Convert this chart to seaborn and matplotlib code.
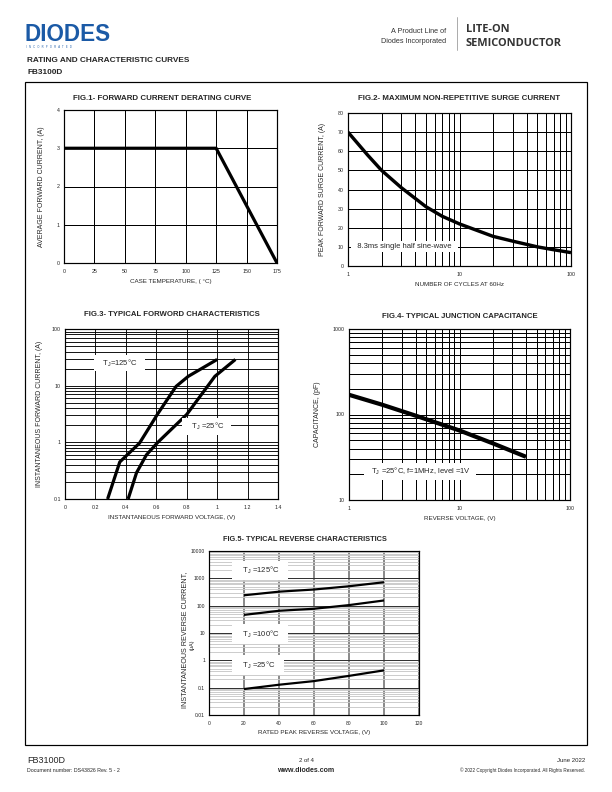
import matplotlib
matplotlib.use("Agg")
import matplotlib.pyplot as plt
import seaborn as sns
from matplotlib.ticker import FixedLocator, FixedFormatter, LogLocator, NullFormatter

# ---- data ----
# FIG.1 derating
f1_temp = [0, 125, 175]
f1_curr = [3, 3, 0]
# FIG.2 surge current
f2_cycles = [1, 1.5, 2, 3, 5, 7, 10, 20, 30, 50, 70, 100]
f2_amps = [70, 58, 50, 41, 31, 26, 22, 15.5, 13, 10, 8.5, 7]
# FIG.3 forward characteristics
f3_v125 = [0.28, 0.36, 0.49, 0.61, 0.73, 0.81, 1.0]
f3_i125 = [0.1, 0.45, 0.97, 3.2, 9.7, 14.6, 29]
f3_v25 = [0.415, 0.47, 0.535, 0.61, 0.80, 0.985, 1.12]
f3_i25 = [0.1, 0.29, 0.6, 1.0, 3.1, 14.6, 29]
# FIG.4 junction capacitance
f4_volt = [1, 2, 4, 10, 20, 40]
f4_cap = [170, 130, 97, 65, 46, 32]
# FIG.5 reverse characteristics
f5_volt = [20, 40, 60, 80, 100]
f5_i125 = [240, 325, 390, 513, 720]
f5_i100 = [46, 65, 77, 105, 155]
f5_i25 = [0.089, 0.128, 0.174, 0.27, 0.43]

sns.set_style("white")
plt.rcParams["font.family"] = ["Liberation Sans", "DejaVu Sans"]
plt.rcParams["mathtext.fontset"] = "custom"
plt.rcParams["mathtext.rm"] = "Liberation Sans"

W, H = 612, 792
fig = plt.figure(figsize=(W / 72, H / 72), dpi=72)


def px_axes(x0, y0, x1, y1):
    ax = fig.add_axes([x0 / W, 1 - y1 / H, (x1 - x0) / W, (y1 - y0) / H])
    for s in ax.spines.values():
        s.set_color("black")
        s.set_linewidth(1.2)
    ax.tick_params(length=0, labelsize=5.3, colors="#222222")
    ax.tick_params(axis="x", pad=6)
    ax.tick_params(axis="y", pad=4)
    return ax


def ftext(x, y, s, **kw):
    fig.text(x / W, 1 - y / H, s, **kw)


def label_box(ax, x, y, s, size=7.6, pad=2.5):
    ax.text(x, y, s, ha="center", va="center", fontsize=size, zorder=5,
            bbox=dict(facecolor="white", edgecolor="none", pad=pad))


def curve(ax, xs, ys, lw=3):
    sns.lineplot(x=xs, y=ys, ax=ax, color="black", linewidth=lw, sort=False,
                 estimator=None, zorder=4, solid_capstyle="butt")


def log_axis(a, ticks, labs):
    a.set_major_locator(FixedLocator(ticks))
    a.set_major_formatter(FixedFormatter(labs))
    a.set_minor_locator(LogLocator(base=10, subs=range(2, 10)))
    a.set_minor_formatter(NullFormatter())


# ---- header ----
ftext(24, 41, "DIODES", fontsize=22.5, fontweight="bold", color="#1b5aa6")
ftext(26, 48, "I   N   C   O   R   P   O   R   A   T   E   D", fontsize=2.6,
      color="#1b5aa6")
ftext(446, 33, "A Product Line of", fontsize=7.2, ha="right", color="#333333")
ftext(446, 43, "Diodes Incorporated", fontsize=7.2, ha="right", color="#333333")
fig.add_artist(plt.Line2D([457 / W, 457 / W], [1 - 17 / H, 1 - 50 / H],
                          color="#999999", lw=0.8))
ftext(466, 32, "LITE-ON", fontsize=11, fontweight="bold", color="#333333",
      family=["Open Sans", "DejaVu Sans"])
ftext(466, 46, "SEMICONDUCTOR", fontsize=11, fontweight="bold", color="#333333",
      family=["Open Sans", "DejaVu Sans"])
ftext(27, 62, "RATING AND CHARACTERISTIC CURVES", fontsize=8.3, fontweight="bold")
ftext(27, 74, "FB3100D", fontsize=8.3, fontweight="bold")

# outer frame
fig.add_artist(plt.Rectangle((25 / W, 1 - 745 / H), 562 / W, 663 / H,
                             fill=False, edgecolor="black", lw=1.2))

XL = dict(fontsize=6.2, labelpad=5)

# ---- FIG.1 ----
ax1 = px_axes(64, 110, 277, 263)
curve(ax1, f1_temp, f1_curr, lw=3.2)
ax1.set_xlim(0, 175)
ax1.set_ylim(0, 4)
ax1.set_xticks(range(0, 176, 25))
ax1.set_yticks(range(0, 5))
ax1.grid(True, color="black", lw=1)
ax1.set_xlabel("CASE TEMPERATURE, ( °C)", **XL)
ax1.set_ylabel("AVERAGE FORWARD CURRENT, (A)", fontsize=7.0, labelpad=12)
ftext(162, 100, "FIG.1- FORWARD CURRENT DERATING CURVE", fontsize=7.9,
      fontweight="bold", ha="center")

# ---- FIG.2 ----
ax2 = px_axes(348, 113, 571, 266)
ax2.set_xscale("log")
curve(ax2, f2_cycles, f2_amps, lw=3.4)
ax2.set_xlim(1, 100)
ax2.set_ylim(0, 80)
ax2.set_yticks(range(0, 81, 10))
log_axis(ax2.xaxis, [1, 10, 100], ["1", "10", "100"])
ax2.tick_params(which="minor", length=0)
ax2.grid(True, which="both", color="black", lw=1)
label_box(ax2, 3.2, 10, "  8.3ms single half sine-wave  ", size=7.6, pad=2)
ax2.set_xlabel("NUMBER OF CYCLES AT 60Hz", **XL)
ax2.set_ylabel("PEAK FORWARD SURGE CURRENT, (A)", fontsize=7.0, labelpad=12)
ftext(459, 100, "FIG.2- MAXIMUM NON-REPETITIVE SURGE CURRENT", fontsize=7.9,
      fontweight="bold", ha="center")

# ---- FIG.3 ----
ax3 = px_axes(65, 329, 278, 499)
ax3.set_yscale("log")
curve(ax3, f3_v125, f3_i125, lw=3.2)
curve(ax3, f3_v25, f3_i25, lw=3.2)
ax3.set_xlim(0, 1.4)
ax3.set_ylim(0.1, 100)
ax3.set_xticks([0, 0.2, 0.4, 0.6, 0.8, 1, 1.2, 1.4])
ax3.set_xticklabels(["0", "0.2", "0.4", "0.6", "0.8", "1", "1.2", "1.4"])
log_axis(ax3.yaxis, [0.1, 1, 10, 100], ["0.1", "1", "10", "100"])
ax3.tick_params(which="minor", length=0)
ax3.grid(True, which="both", color="black", lw=0.9)
label_box(ax3, 0.355, 25, r"   T$_\mathregular{J}$=125°C   ", pad=2.5)
label_box(ax3, 0.93, 1.9, r"   T$_\mathregular{J}$ =25°C   ", pad=2.5)
ax3.set_xlabel("INSTANTANEOUS FORWARD VOLTAGE, (V)", **XL)
ax3.set_ylabel("INSTANTANEOUS FORWARD CURRENT, (A)", fontsize=7.0, labelpad=9)
ftext(172, 316, "FIG.3- TYPICAL FORWORD CHARACTERISTICS", fontsize=7.8,
      fontweight="bold", ha="center")

# ---- FIG.4 ----
ax4 = px_axes(349, 329, 570, 500)
ax4.set_xscale("log")
ax4.set_yscale("log")
curve(ax4, f4_volt, f4_cap, lw=4.2)
ax4.set_xlim(1, 100)
ax4.set_ylim(10, 1000)
log_axis(ax4.xaxis, [1, 10, 100], ["1", "10", "100"])
log_axis(ax4.yaxis, [10, 100, 1000], ["10", "100", "1000"])
ax4.tick_params(which="minor", length=0)
ax4.grid(True, which="both", color="black", lw=1)
label_box(ax4, 4.4, 21.5, r"  T$_\mathregular{J}$ =25°C, f=1MHz, level =1V  ",
          size=7.6, pad=3)
ax4.set_xlabel("REVERSE VOLTAGE, (V)", **XL)
ax4.set_ylabel("CAPACITANCE, (pF)", fontsize=7.0, labelpad=12)
ftext(460, 318, "FIG.4- TYPICAL JUNCTION CAPACITANCE", fontsize=7.8,
      fontweight="bold", ha="center")

# ---- FIG.5 ----
ax5 = px_axes(209, 551, 419, 715)
ax5.set_yscale("log")
curve(ax5, f5_volt, f5_i125, lw=2.2)
curve(ax5, f5_volt, f5_i100, lw=2.2)
curve(ax5, f5_volt, f5_i25, lw=2.2)
ax5.set_xlim(0, 120)
ax5.set_ylim(0.01, 10000)
ax5.set_xticks(range(0, 121, 20))
log_axis(ax5.yaxis, [0.01, 0.1, 1, 10, 100, 1000, 10000],
         ["0.01", "0.1", "1", "10", "100", "1000", "10000"])
ax5.tick_params(which="minor", length=0)
ax5.tick_params(labelsize=5.0)
ax5.grid(True, axis="y", which="minor", color="#c8c8c8", lw=0.9)
ax5.grid(True, axis="y", which="major", color="#333333", lw=1)
ax5.grid(True, axis="x", which="major", color="#666666", lw=1.5)
label_box(ax5, 29, 1900, r"   T$_\mathregular{J}$ =125°C   ", size=7.6, pad=4)
label_box(ax5, 29, 9.2, r"   T$_\mathregular{J}$ =100°C   ", size=7.6, pad=4)
label_box(ax5, 28, 0.68, r"   T$_\mathregular{J}$ =25°C   ", size=7.6, pad=4)
ax5.set_xlabel("RATED PEAK REVERSE VOLTAGE, (V)", fontsize=6.2, labelpad=4)
ftext(185, 640, "INSTANTANEOUS REVERSE CURRENT,", fontsize=7.3, rotation=90,
      ha="center", va="center")
ftext(192, 645, "(μA)", fontsize=5.5, rotation=90, ha="center", va="center")
ftext(305, 541, "FIG.5- TYPICAL REVERSE CHARACTERISTICS", fontsize=7.4,
      fontweight="bold", ha="center")

# ---- footer ----
ftext(27, 763, "FB3100D", fontsize=9)
ftext(27, 772, "Document number: DS43826 Rev. 5 - 2", fontsize=5.3)
ftext(306, 762, "2 of 4", fontsize=6, ha="center")
ftext(306, 772, "www.diodes.com", fontsize=7, ha="center", fontweight="bold")
ftext(585, 762, "June 2022", fontsize=6, ha="right")
ftext(585, 772, "© 2022 Copyright Diodes Incorporated. All Rights Reserved.",
      fontsize=4.6, ha="right")

fig.savefig("out.png", dpi=72)
